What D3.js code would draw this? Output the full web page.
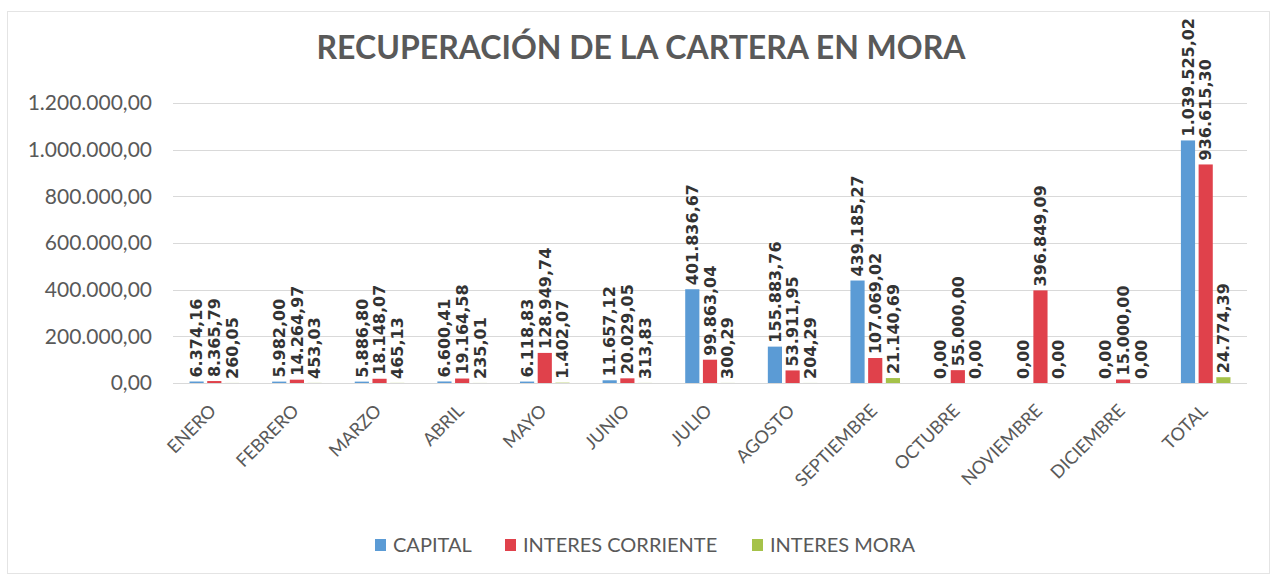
<!DOCTYPE html>
<html>
<head>
  <title>Recuperacion de la cartera en mora</title>
  <script src="https://d3js.org/d3.v7.min.js"></script>
  <style>
    body { margin: 0; background: #fff; }
    .grid line { stroke: #d9d9d9; stroke-width: 1px; }
    .ylabel { font: 21px Lato, sans-serif; fill: #595959; }
    .xlabel { font: 18px Lato, sans-serif; fill: #595959; }
    .vlabel { font: bold 16px "DejaVu Sans", sans-serif; fill: #333; }
    .title { font: bold 32px Lato, sans-serif; fill: #595959; }
    .legend text { font: 20px Lato, sans-serif; fill: #595959; }
  </style>
</head>
<body>
  <script>
    var width = 1274,
        height = 578;

    var categories = ["ENERO", "FEBRERO", "MARZO", "ABRIL", "MAYO", "JUNIO", "JULIO",
                      "AGOSTO", "SEPTIEMBRE", "OCTUBRE", "NOVIEMBRE", "DICIEMBRE", "TOTAL"];
    var seriesNames = ["CAPITAL", "INTERES CORRIENTE", "INTERES MORA"];
    var capital = [6374.16, 5982.00, 5886.80, 6600.41, 6118.83, 11657.12, 401836.67,
                   155883.76, 439185.27, 0, 0, 0, 1039525.02];
    var interesCorriente = [8365.79, 14264.97, 18148.07, 19164.58, 128949.74, 20029.05, 99863.04,
                            53911.95, 107069.02, 55000.00, 396849.09, 15000.00, 936615.30];
    var interesMora = [260.05, 453.03, 465.13, 235.01, 1402.07, 313.83, 300.29,
                       204.29, 21140.69, 0, 0, 0, 24774.39];
    var yTicks = [0, 200000, 400000, 600000, 800000, 1000000, 1200000];
    var colors = ["#5b9bd5", "#e0414b", "#a5c249"];

    var series = [capital, interesCorriente, interesMora];

    var es = d3.formatLocale({decimal: ",", thousands: ".", grouping: [3], currency: ["", ""]});
    var fmt = es.format(",.2f");

    var margin = {left: 173, right: 27, top: 103, bottom: 195};

    var svg = d3.select("body").append("svg")
        .attr("width", width)
        .attr("height", height);

    // chart frame
    svg.append("rect")
        .attr("x", 7.5).attr("y", 11.5)
        .attr("width", 1262).attr("height", 562)
        .attr("fill", "none").attr("stroke", "#e4e4e4");

    var x0 = d3.scaleBand()
        .domain(categories)
        .range([margin.left, width - margin.right])
        .paddingInner(0.4)
        .paddingOuter(0.2);

    var x1 = d3.scaleBand()
        .domain(d3.range(series.length))
        .range([0, x0.bandwidth()])
        .paddingInner(0.2)
        .paddingOuter(0);

    var y = d3.scaleLinear()
        .domain([0, 1200000])
        .range([height - margin.bottom, margin.top]);

    // gridlines + y labels
    var grid = svg.append("g").attr("class", "grid");
    grid.selectAll("line")
        .data(yTicks)
        .enter().append("line")
        .attr("x1", margin.left)
        .attr("x2", width - margin.right)
        .attr("y1", function(d) { return Math.round(y(d)) + 0.5; })
        .attr("y2", function(d) { return Math.round(y(d)) + 0.5; });

    svg.selectAll(".ylabel")
        .data(yTicks)
        .enter().append("text")
        .attr("class", "ylabel")
        .attr("x", 152)
        .attr("y", function(d) { return y(d); })
        .attr("dy", "0.35em")
        .attr("text-anchor", "end")
        .text(function(d) { return fmt(d); });

    // bars
    var groups = svg.selectAll(".group")
        .data(categories)
        .enter().append("g")
        .attr("class", "group")
        .attr("transform", function(d) { return "translate(" + x0(d) + ",0)"; });

    groups.selectAll("rect")
        .data(function(d, i) { return series.map(function(s, k) { return {k: k, v: s[i]}; }); })
        .enter().append("rect")
        .attr("x", function(d) { return x1(d.k); })
        .attr("width", x1.bandwidth())
        .attr("y", function(d) { return y(d.v); })
        .attr("height", function(d) { return y(0) - y(d.v); })
        .attr("fill", function(d) { return colors[d.k]; });

    // value labels
    groups.selectAll(".vlabel")
        .data(function(d, i) { return series.map(function(s, k) { return {k: k, v: s[i]}; }); })
        .enter().append("text")
        .attr("class", "vlabel")
        .attr("transform", function(d) {
          return "translate(" + (x1(d.k) + x1.bandwidth() / 2) + "," + (y(d.v) - 4) + ") rotate(-90)";
        })
        .attr("dy", "0.36em")
        .text(function(d) { return fmt(d.v); });

    // category labels
    svg.selectAll(".xlabel")
        .data(categories)
        .enter().append("text")
        .attr("class", "xlabel")
        .attr("text-anchor", "end")
        .attr("transform", function(d) {
          return "translate(" + (x0(d) + x0.bandwidth() / 2 + 3) + "," + 412 + ") rotate(-45)";
        })
        .text(function(d) { return d; });

    // title
    svg.append("text")
        .attr("class", "title")
        .attr("x", 641)
        .attr("y", 59)
        .attr("text-anchor", "middle")
        .text("RECUPERACIÓN DE LA CARTERA EN MORA");

    // legend
    var legendX = [375, 505, 752];
    var legend = svg.append("g").attr("class", "legend");
    var item = legend.selectAll("g")
        .data(seriesNames)
        .enter().append("g")
        .attr("transform", function(d, i) { return "translate(" + legendX[i] + ",545)"; });
    item.append("rect")
        .attr("x", 0).attr("y", -6)
        .attr("width", 11).attr("height", 12)
        .attr("fill", function(d, i) { return colors[i]; });
    item.append("text")
        .attr("x", 18)
        .attr("dy", "0.35em")
        .text(function(d) { return d; });
  </script>
</body>
</html>
